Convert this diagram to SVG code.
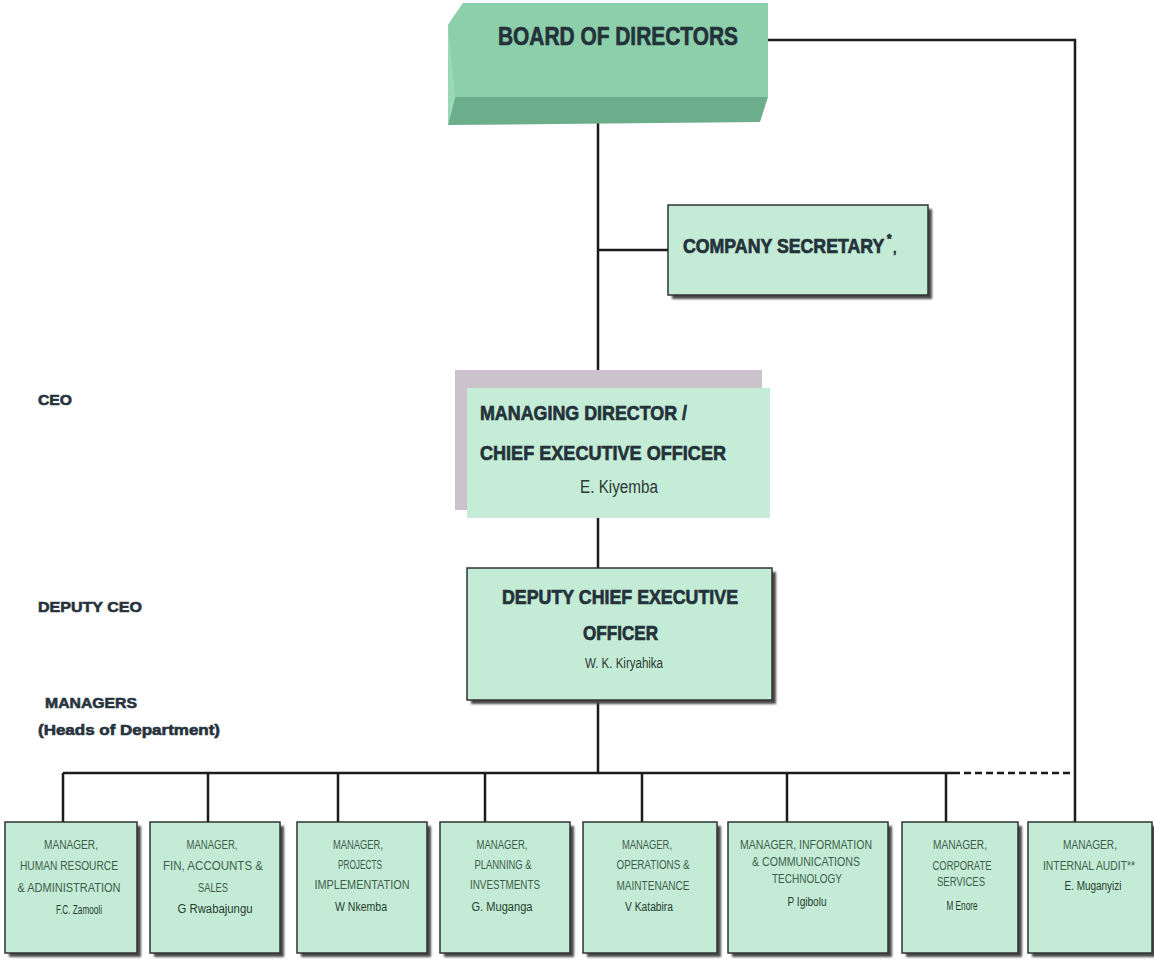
<svg xmlns="http://www.w3.org/2000/svg" width="1154" height="962" viewBox="0 0 1154 962">
  <defs>
    <filter id="soft" x="-10%" y="-10%" width="130%" height="130%">
      <feGaussianBlur stdDeviation="1.2"/>
    </filter>
    <style>
      .line { stroke: #1b1b1b; stroke-width: 2.5; fill: none; }
      .dash { stroke: #1b1b1b; stroke-width: 2.5; fill: none; stroke-dasharray: 7 4; }
      .box { fill: #c3ebd5; stroke: #2e3330; stroke-width: 1.5; }
      .shadow { fill: #4a4a4a; filter: url(#soft); }
      .head { font-family: "Liberation Sans", Arial, sans-serif; font-weight: bold; fill: #24323a; stroke: #24323a; stroke-width: 0.7; }
      .side { font-family: "Liberation Sans", Arial, sans-serif; font-weight: bold; fill: #27333d; stroke: #27333d; stroke-width: 0.6; font-size: 15px; }
      .name { font-family: "Liberation Sans", Arial, sans-serif; fill: #2b3a34; }
      .mgr { font-family: "Liberation Sans", Arial, sans-serif; font-size: 12px; fill: #3f5e4b; text-anchor: middle; }
      .mgrname { font-family: "Liberation Sans", Arial, sans-serif; font-size: 12px; fill: #26402f; text-anchor: middle; }
    </style>
  </defs>

  <rect width="1154" height="962" fill="#ffffff"/>

  <!-- connectors -->
  <g id="connectors">
    <polyline class="line" points="768,40 1075,40 1075,822"/>
    <line class="line" x1="598" y1="120" x2="598" y2="388"/>
    <line class="line" x1="598" y1="250" x2="668" y2="250"/>
    <line class="line" x1="598" y1="518" x2="598" y2="568"/>
    <line class="line" x1="598" y1="700" x2="598" y2="773"/>
    <line class="line" x1="63" y1="773" x2="953" y2="773"/>
    <line class="dash" x1="953" y1="773" x2="1075" y2="773"/>
    <line class="line" x1="63" y1="773" x2="63" y2="822"/>
    <line class="line" x1="208" y1="773" x2="208" y2="822"/>
    <line class="line" x1="338" y1="773" x2="338" y2="822"/>
    <line class="line" x1="485" y1="773" x2="485" y2="822"/>
    <line class="line" x1="642" y1="773" x2="642" y2="822"/>
    <line class="line" x1="787" y1="773" x2="787" y2="822"/>
    <line class="line" x1="946" y1="773" x2="946" y2="822"/>
  </g>

  <!-- board: bevelled 3D block -->
  <g id="board">
    <polygon points="463,3 448,25 448,125 455,97" fill="#9ad8b6"/>
    <polygon points="463,3 768,3 768,97 455,97 448,25" fill="#8dcfab"/>
    <polygon points="455,97 768,97 760,122 448,125" fill="#6cae8b"/>
    <text class="head" x="498" y="45" font-size="26" textLength="240" lengthAdjust="spacingAndGlyphs">BOARD OF DIRECTORS</text>
  </g>

  <!-- company secretary -->
  <g id="secretary">
    <rect class="shadow" x="672" y="209" width="260" height="90"/>
    <rect class="box" x="668" y="205" width="260" height="90"/>
    <text class="head" transform="translate(683,253) scale(0.887,1)" font-size="20">COMPANY SECRETARY<tspan dx="3" dy="-10" font-size="13">*</tspan><tspan dx="2" dy="10" font-size="12">,</tspan></text>
  </g>

  <!-- managing director / CEO -->
  <g id="ceo">
    <rect x="455" y="370" width="307" height="140" fill="#cbc2cc"/>
    <rect x="467" y="388" width="303" height="130" fill="#c5ecd6"/>
    <text class="head" x="480" y="420" font-size="21" textLength="207" lengthAdjust="spacingAndGlyphs">MANAGING DIRECTOR /</text>
    <text class="head" x="480" y="460" font-size="21" textLength="246" lengthAdjust="spacingAndGlyphs">CHIEF EXECUTIVE OFFICER</text>
    <text class="name" x="580" y="493" font-size="18" textLength="78" lengthAdjust="spacingAndGlyphs">E. Kiyemba</text>
  </g>

  <!-- deputy CEO -->
  <g id="deputy">
    <rect class="shadow" x="471" y="572" width="305" height="132"/>
    <rect class="box" x="467" y="568" width="305" height="132"/>
    <text class="head" x="502" y="604" font-size="20" textLength="236" lengthAdjust="spacingAndGlyphs">DEPUTY CHIEF EXECUTIVE</text>
    <text class="head" x="583" y="640" font-size="20" textLength="75" lengthAdjust="spacingAndGlyphs">OFFICER</text>
    <text class="name" x="585" y="668" font-size="14" textLength="78" lengthAdjust="spacingAndGlyphs">W. K. Kiryahika</text>
  </g>

  <!-- level labels -->
  <g id="levels">
    <text class="side" x="38" y="405" textLength="34" lengthAdjust="spacingAndGlyphs">CEO</text>
    <text class="side" x="38" y="612" textLength="104" lengthAdjust="spacingAndGlyphs">DEPUTY CEO</text>
    <text class="side" x="45" y="708" textLength="92" lengthAdjust="spacingAndGlyphs">MANAGERS</text>
    <text class="side" x="38" y="735" font-size="16" textLength="182" lengthAdjust="spacingAndGlyphs">(Heads of Department)</text>
  </g>

  <!-- heads of department -->
  <g id="mgr-hr">
    <rect class="shadow" x="9" y="826" width="132" height="131"/>
    <rect class="box" x="5" y="822" width="132" height="131"/>
    <text class="mgr" x="71" y="849" textLength="54" lengthAdjust="spacingAndGlyphs">MANAGER,</text>
    <text class="mgr" x="69" y="870" textLength="98" lengthAdjust="spacingAndGlyphs">HUMAN RESOURCE</text>
    <text class="mgr" x="69" y="892" textLength="103" lengthAdjust="spacingAndGlyphs">&amp; ADMINISTRATION</text>
    <text class="mgrname" x="79" y="914" textLength="46" lengthAdjust="spacingAndGlyphs">F.C. Zamooli</text>
  </g>

  <g id="mgr-finance">
    <rect class="shadow" x="154" y="826" width="130" height="131"/>
    <rect class="box" x="150" y="822" width="130" height="131"/>
    <text class="mgr" x="212" y="849" textLength="51" lengthAdjust="spacingAndGlyphs">MANAGER,</text>
    <text class="mgr" x="213" y="870" textLength="100" lengthAdjust="spacingAndGlyphs">FIN, ACCOUNTS &amp;</text>
    <text class="mgr" x="213" y="892" textLength="30" lengthAdjust="spacingAndGlyphs">SALES</text>
    <text class="mgrname" x="215" y="913" textLength="75" lengthAdjust="spacingAndGlyphs">G Rwabajungu</text>
  </g>

  <g id="mgr-projects">
    <rect class="shadow" x="301" y="826" width="130" height="131"/>
    <rect class="box" x="297" y="822" width="130" height="131"/>
    <text class="mgr" x="358" y="849" textLength="50" lengthAdjust="spacingAndGlyphs">MANAGER,</text>
    <text class="mgr" x="360" y="869" textLength="44" lengthAdjust="spacingAndGlyphs">PROJECTS</text>
    <text class="mgr" x="362" y="889" textLength="95" lengthAdjust="spacingAndGlyphs">IMPLEMENTATION</text>
    <text class="mgrname" x="361" y="911" textLength="52" lengthAdjust="spacingAndGlyphs">W Nkemba</text>
  </g>

  <g id="mgr-planning">
    <rect class="shadow" x="444" y="826" width="130" height="131"/>
    <rect class="box" x="440" y="822" width="130" height="131"/>
    <text class="mgr" x="502" y="849" textLength="51" lengthAdjust="spacingAndGlyphs">MANAGER,</text>
    <text class="mgr" x="503" y="869" textLength="57" lengthAdjust="spacingAndGlyphs">PLANNING &amp;</text>
    <text class="mgr" x="505" y="889" textLength="70" lengthAdjust="spacingAndGlyphs">INVESTMENTS</text>
    <text class="mgrname" x="502" y="911" textLength="61" lengthAdjust="spacingAndGlyphs">G. Muganga</text>
  </g>

  <g id="mgr-operations">
    <rect class="shadow" x="587" y="826" width="134" height="131"/>
    <rect class="box" x="583" y="822" width="134" height="131"/>
    <text class="mgr" x="647" y="849" textLength="50" lengthAdjust="spacingAndGlyphs">MANAGER,</text>
    <text class="mgr" x="653" y="869" textLength="73" lengthAdjust="spacingAndGlyphs">OPERATIONS &amp;</text>
    <text class="mgr" x="653" y="890" textLength="73" lengthAdjust="spacingAndGlyphs">MAINTENANCE</text>
    <text class="mgrname" x="649" y="911" textLength="48" lengthAdjust="spacingAndGlyphs">V Katabira</text>
  </g>

  <g id="mgr-ict">
    <rect class="shadow" x="732" y="826" width="160" height="131"/>
    <rect class="box" x="728" y="822" width="160" height="131"/>
    <text class="mgr" x="806" y="849" textLength="132" lengthAdjust="spacingAndGlyphs">MANAGER, INFORMATION</text>
    <text class="mgr" x="806" y="866" textLength="108" lengthAdjust="spacingAndGlyphs">&amp; COMMUNICATIONS</text>
    <text class="mgr" x="807" y="883" textLength="70" lengthAdjust="spacingAndGlyphs">TECHNOLOGY</text>
    <text class="mgrname" x="807" y="906" textLength="39" lengthAdjust="spacingAndGlyphs">P Igibolu</text>
  </g>

  <g id="mgr-corporate">
    <rect class="shadow" x="906" y="826" width="116" height="131"/>
    <rect class="box" x="902" y="822" width="116" height="131"/>
    <text class="mgr" x="960" y="849" textLength="54" lengthAdjust="spacingAndGlyphs">MANAGER,</text>
    <text class="mgr" x="962" y="870" textLength="59" lengthAdjust="spacingAndGlyphs">CORPORATE</text>
    <text class="mgr" x="961" y="886" textLength="48" lengthAdjust="spacingAndGlyphs">SERVICES</text>
    <text class="mgrname" x="962" y="910" textLength="31" lengthAdjust="spacingAndGlyphs">M Enore</text>
  </g>

  <g id="mgr-audit">
    <rect class="shadow" x="1032" y="826" width="124" height="131"/>
    <rect class="box" x="1028" y="822" width="124" height="131"/>
    <text class="mgr" x="1090" y="849" textLength="54" lengthAdjust="spacingAndGlyphs">MANAGER,</text>
    <text class="mgr" x="1089" y="870" textLength="92" lengthAdjust="spacingAndGlyphs">INTERNAL AUDIT**</text>
    <text class="mgrname" x="1093" y="890" textLength="57" lengthAdjust="spacingAndGlyphs">E. Muganyizi</text>
  </g>
</svg>
